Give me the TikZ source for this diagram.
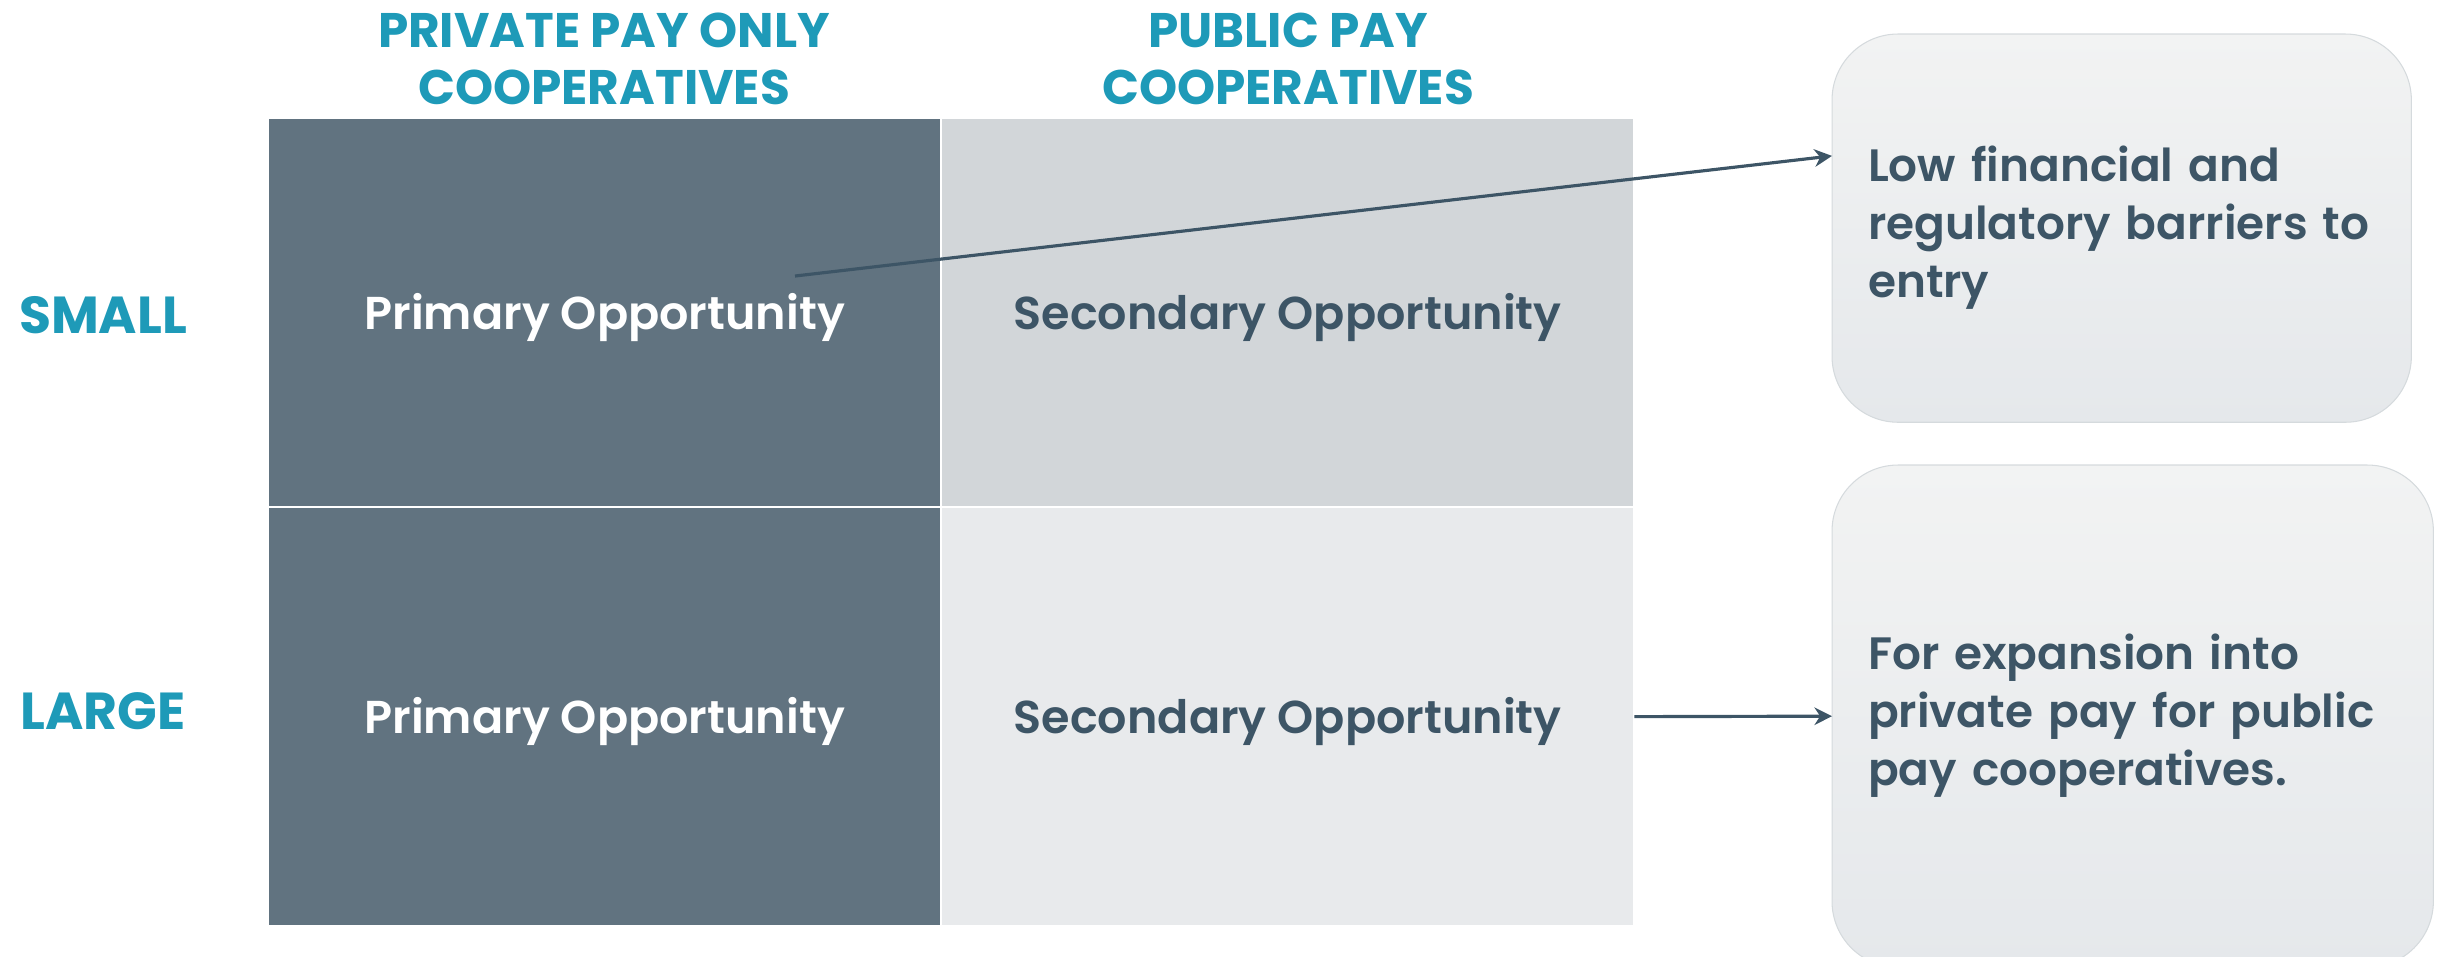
\documentclass[tikz,border=0pt]{standalone}
\usepackage{fontspec}
\setmainfont{Poppins}
\newfontfamily\semifont{Poppins SemiBold}
\usepackage{tikz}
\usetikzlibrary{arrows.meta,shadings}
\usepackage{xcolor}

\definecolor{teal}{HTML}{1E9AB8}
\definecolor{slate}{HTML}{617380}
\definecolor{mist}{HTML}{D2D6D9}
\definecolor{haze}{HTML}{E8EAEC}
\definecolor{ink}{HTML}{3D5566}
\definecolor{boxtop}{HTML}{F2F3F3}
\definecolor{boxbot}{HTML}{E5E8EB}
\definecolor{boxline}{HTML}{D5DADD}

\begin{document}
\begin{tikzpicture}[
  x=0.01cm, y=-0.01cm,
  >={Stealth[length=5pt,width=5pt]},
  every node/.style={inner sep=0pt, outer sep=0pt},
  head/.style={font=\bfseries\fontsize{13.8}{16.2}\selectfont, text=teal, align=center},
  rowlabel/.style={font=\bfseries\fontsize{14.8}{17}\selectfont, text=teal},
  cell/.style={draw=white, line width=0.6pt, anchor=north west,
    font=\semifont\fontsize{13.1}{16}\selectfont, text height=0.95em, text depth=0pt},
  note/.style={draw=boxline, line width=0.3pt, rounded corners=0.66cm,
    top color=boxtop, bottom color=boxbot, align=left, inner xsep=0.36cm,
    font=\semifont\fontsize{12.9}{16.5}\selectfont, text=ink},
  link/.style={->, draw=ink, line width=0.9pt}
]

% Page frame (pixel units)
\useasboundingbox (0,0) rectangle (2440,956);

% Parameters (in pixel units)
\def\L{268}    % left edge of grid
\def\C{941}    % column divider
\def\T{118}    % top of grid
\def\R{507}    % row divider

% --- Column headings ---
\node[head] (hpriv) at (604,59) {PRIVATE PAY ONLY\\COOPERATIVES};
\node[head] (hpub)  at (1288,59) {PUBLIC PAY\\COOPERATIVES};

% --- Row labels ---
\node[rowlabel] (small) at (103,315) {SMALL};
\node[rowlabel] (large) at (103,711) {LARGE};

% --- Grid cells ---
\node[cell, fill=slate, text=white, minimum width=6.73cm, minimum height=3.89cm]
  (ps) at (\L,\T) {Primary Opportunity};
\node[cell, fill=mist, text=ink, minimum width=6.93cm, minimum height=3.89cm]
  (ss) at (\C,\T) {Secondary Opportunity};
\node[cell, fill=slate, text=white, minimum width=6.73cm, minimum height=4.19cm]
  (pl) at (\L,\R) {Primary Opportunity};
\node[cell, fill=haze, text=ink, minimum width=6.93cm, minimum height=4.19cm]
  (sl) at (\C,\R) {Secondary Opportunity};

% --- Notes on the right ---
\node[note, anchor=north west, text width=5.07cm, minimum height=3.88cm]
  (low) at (1832,34) {Low financial and\\regulatory barriers to\\entry};
\node[note, anchor=north west, text width=5.29cm, minimum height=5.02cm]
  (expand) at (1832,465) {For expansion into\\private pay for public\\pay cooperatives.};

% --- Connectors ---
\coordinate (ptr) at (795,276);
\draw[link] (ptr) -- (low.166);
\draw[link] (sl.east) -- (expand.west);

\end{tikzpicture}
\end{document}
